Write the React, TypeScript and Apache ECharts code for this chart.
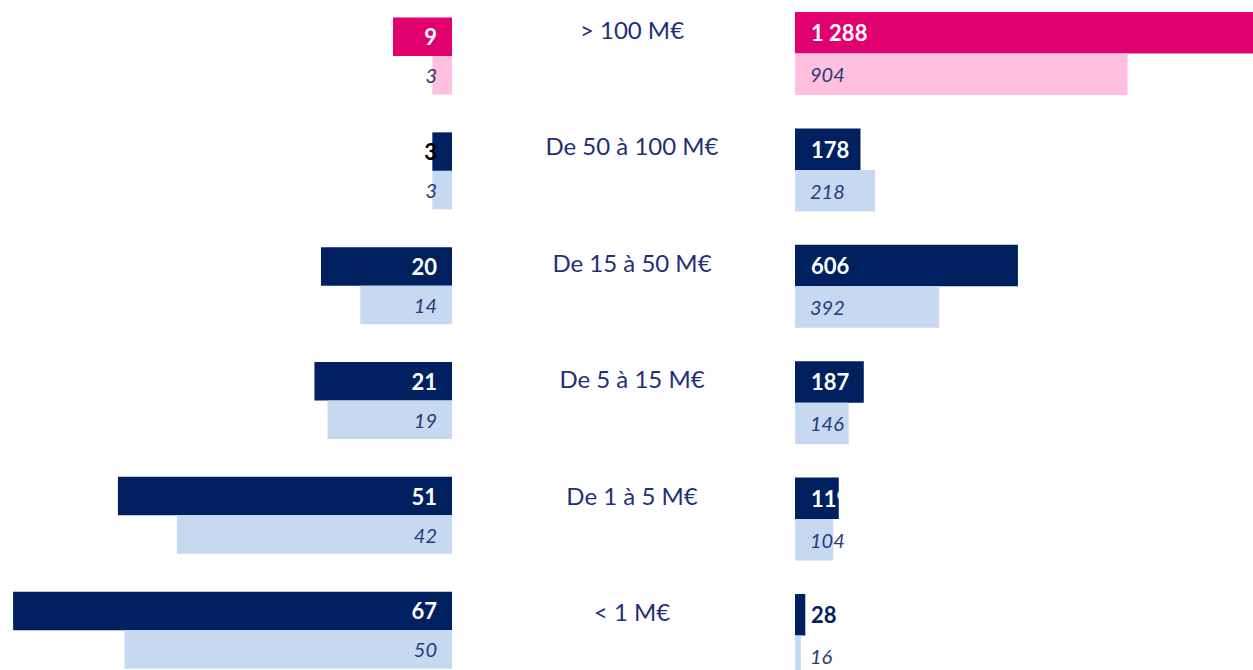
import React, { useEffect, useRef } from "react";
import * as echarts from "echarts";

const categories = ["> 100 M€", "De 50 à 100 M€", "De 15 à 50 M€", "De 5 à 15 M€", "De 1 à 5 M€", "< 1 M€"];
const leftCurrent = [9, 3, 20, 21, 51, 67];
const leftPrior = [3, 3, 14, 19, 42, 50];
const rightCurrent = [1288, 178, 606, 187, 119, 28];
const rightPrior = [904, 218, 392, 146, 104, 16];

const NAVY = "#002060";
const LIGHT_BLUE = "#C6D9F1";
const MAGENTA = "#E0006E";
const PINK = "#FFC0E0";
const TEXT = "#1F3077";
const ITALIC = "#2B3A78";
const FONT = "Lato, 'Open Sans', sans-serif";
const SHIFT = 40;

const fmt = (v: number) => String(v).replace(/\B(?=(\d{3})+(?!\d))/g, " ");

export default function App() {
  const ref = useRef<HTMLDivElement>(null);
  useEffect(() => {
    if (!ref.current) return;
    const chart = echarts.init(ref.current, null, { renderer: "svg" });

    const mkData = (vals: number[], dark: boolean, smallLimit: number, smallColor: string) =>
      vals.map((v, i) => {
        const item: any = {
          value: v,
          itemStyle: { color: i === 0 ? (dark ? MAGENTA : PINK) : dark ? NAVY : LIGHT_BLUE },
        };
        if (dark && v < smallLimit) item.label = { color: smallColor };
        return item;
      });

    const hiddenVal = {
      axisLine: { show: false },
      axisTick: { show: false },
      axisLabel: { show: false },
      splitLine: { show: false },
    };

    const darkLabel = (pos: string, dist: number) => ({
      show: true,
      position: pos,
      distance: dist,
      color: "#FFFFFF",
      fontWeight: "bold",
      fontSize: 22,
      fontFamily: FONT,
      formatter: (p: any) => fmt(p.value),
    });
    const lightLabel = (pos: string, dist: number) => ({
      show: true,
      position: pos,
      distance: dist,
      color: ITALIC,
      fontStyle: "italic",
      fontSize: 20,
      fontFamily: FONT,
      formatter: (p: any) => fmt(p.value),
    });

    chart.setOption({
      animation: false,
      grid: [
        { left: 0, width: 452, top: SHIFT - 1.4, height: 689, containLabel: false },
        { left: 795, width: 458, top: SHIFT - 4.7, height: 698.4, containLabel: false },
        { left: 795, width: 458, top: SHIFT - 28.7, height: 698.4, containLabel: false },
      ],
      xAxis: [
        { type: "value", gridIndex: 0, min: 0, max: 69, inverse: true, ...hiddenVal },
        { type: "value", gridIndex: 1, min: 0, max: 1245, ...hiddenVal },
        { type: "value", gridIndex: 2, min: 0, max: 1, ...hiddenVal },
      ],
      yAxis: [
        { type: "category", gridIndex: 0, data: categories, inverse: true, ...hiddenVal },
        { type: "category", gridIndex: 1, data: categories, inverse: true, ...hiddenVal },
        {
          type: "category",
          gridIndex: 2,
          data: categories,
          inverse: true,
          axisLine: { show: false },
          axisTick: { show: false },
          splitLine: { show: false },
          axisLabel: {
            show: true,
            margin: 163,
            align: "center",
            fontSize: 24,
            color: TEXT,
            fontFamily: FONT,
          },
        },
      ],
      series: [
        {
          type: "bar",
          xAxisIndex: 0,
          yAxisIndex: 0,
          barWidth: 38.5,
          barGap: "0%",
          data: mkData(leftCurrent, true, 5, "#000000"),
          label: darkLabel("insideRight", 15),
        },
        {
          type: "bar",
          xAxisIndex: 0,
          yAxisIndex: 0,
          barWidth: 38.5,
          barGap: "0%",
          data: mkData(leftPrior, false, 0, ""),
          label: lightLabel("insideRight", 15),
        },
        {
          type: "bar",
          xAxisIndex: 1,
          yAxisIndex: 1,
          barWidth: 41.5,
          barGap: "0%",
          data: mkData(rightCurrent, true, 50, NAVY),
          label: darkLabel("insideLeft", 16),
        },
        {
          type: "bar",
          xAxisIndex: 1,
          yAxisIndex: 1,
          barWidth: 41.5,
          barGap: "0%",
          data: mkData(rightPrior, false, 0, ""),
          label: lightLabel("insideLeft", 15),
        },
      ],
    });
    return () => chart.dispose();
  }, []);

  return (
    <div
      ref={ref}
      style={{ position: "fixed", left: 0, top: -SHIFT, width: 1253, height: 780, background: "#FFFFFF" }}
    />
  );
}
